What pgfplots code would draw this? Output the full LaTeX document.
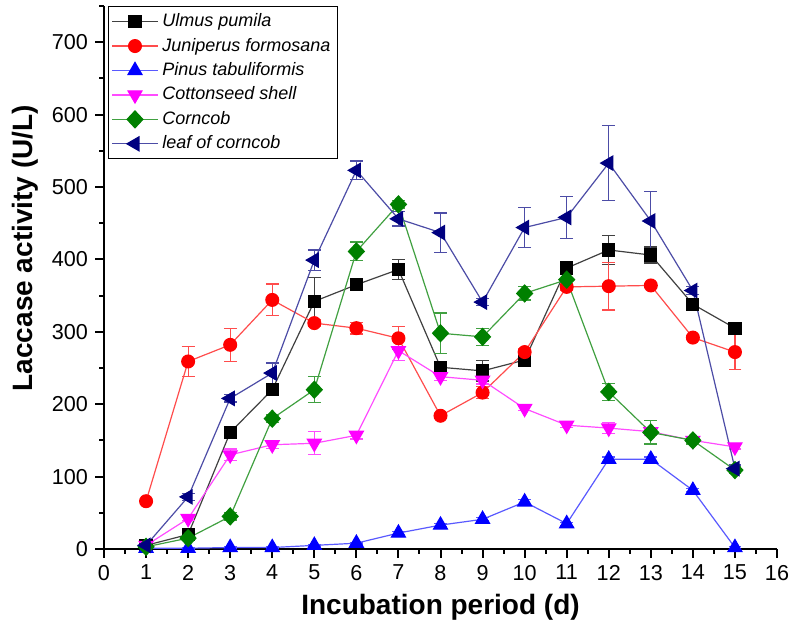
\documentclass[border=0pt]{standalone}
\usepackage{pgfplots}
\pgfplotsset{compat=1.18}
\usepackage{fontspec}
\setmainfont{Liberation Sans}

\definecolor{cUlm}{RGB}{0,0,0}
\definecolor{cJun}{RGB}{255,0,0}
\definecolor{cPin}{RGB}{0,0,255}
\definecolor{cCot}{RGB}{255,0,255}
\definecolor{cCor}{RGB}{0,128,0}
\definecolor{cLea}{RGB}{0,0,128}

\begin{document}
\begin{tikzpicture}
\begin{axis}[
  scale only axis,
  width=336.5pt, height=271.5pt,
  xmin=0, xmax=16, ymin=0, ymax=750,
  axis x line=bottom, axis y line=left,
  axis line style={-, line width=1pt},
  xtick={0,1,...,16},
  ytick={0,100,...,700},
  minor x tick num=1,
  minor ytick={50,150,...,750},
  tick align=outside,
  major tick length=4.5pt, minor tick length=2.5pt,
  tick style={line width=1pt, black},
  tick label style={font=\fontsize{10.8}{12}\selectfont},
  /pgf/number format/assume math mode=true,
  xlabel={Incubation period (d)},
  ylabel={Laccase activity (U/L)},
  label style={font=\fontsize{14}{16}\selectfont\bfseries},
  ylabel style={at={(ticklabel cs:0.554)}},
  clip=false,
  legend style={at={(0.006,1.0)}, anchor=north west, draw=black,
    line width=0.6pt, fill=white, font=\fontsize{9}{10}\selectfont\itshape,
    inner sep=1.5pt, row sep=0.2pt},
  legend cell align=left,
  legend image code/.code={
    \draw[mark repeat=2, mark phase=2] plot coordinates {(0cm,0cm) (0.4cm,0cm) (0.8cm,0cm)};},
  every axis plot/.append style={line width=0.6pt},
  error bars/y dir=both, error bars/y explicit,
  error bars/error bar style={line width=0.6pt},
  error bars/error mark options={rotate=90, mark size=3.2pt, line width=0.6pt},
]
% Ulmus pumila
\addplot[color=cUlm!75, mark=square*, mark size=3pt, mark options={solid, fill=cUlm, draw=cUlm}]
  coordinates {(1,5)+-(0,2) (2,20)+-(0,3) (3,161)+-(0,8) (4,220)+-(0,6) (5,342)+-(0,33)
  (6,365)+-(0,8) (7,386)+-(0,14) (8,251)+-(0,5) (9,246)+-(0,14) (10,261)+-(0,5)
  (11,388)+-(0,5) (12,413)+-(0,20) (13,406)+-(0,11) (14,338)+-(0,5) (15,305)+-(0,5)};
\addlegendentry{Ulmus pumila}
% Juniperus formosana
\addplot[color=cJun!70, mark=*, mark size=3.2pt, mark options={solid, fill=cJun, draw=cJun}]
  coordinates {(1,66)+-(0,3) (2,259)+-(0,21) (3,282)+-(0,23) (4,344)+-(0,22) (5,312)+-(0,5)
  (6,305)+-(0,8) (7,291)+-(0,16) (8,184)+-(0,3) (9,216)+-(0,8) (10,272)+-(0,5)
  (11,362)+-(0,5) (12,363)+-(0,33) (13,364)+-(0,3) (14,292)+-(0,3) (15,272)+-(0,24)};
\addlegendentry{Juniperus formosana}
% Pinus tabuliformis
\addplot[color=cPin!65, mark=triangle*, mark size=4pt, mark options={solid, fill=cPin, draw=cPin}]
  coordinates {(1,1)+-(0,1) (2,1)+-(0,1) (3,2)+-(0,1) (4,2)+-(0,1) (5,5)+-(0,1)
  (6,8)+-(0,1) (7,22)+-(0,2) (8,33)+-(0,2) (9,41)+-(0,2) (10,65)+-(0,3)
  (11,35)+-(0,2) (12,124)+-(0,3) (13,124)+-(0,3) (14,81)+-(0,2) (15,2)+-(0,1)};
\addlegendentry{Pinus tabuliformis}
% Cottonseed shell
\addplot[color=cCot!70, mark=triangle*, mark size=4pt, mark options={solid, rotate=180, fill=cCot, draw=cCot}]
  coordinates {(1,5)+-(0,2) (2,42)+-(0,3) (3,130)+-(0,8) (4,144)+-(0,5) (5,146)+-(0,16)
  (6,157)+-(0,5) (7,274)+-(0,14) (8,238)+-(0,5) (9,233)+-(0,5) (10,194)+-(0,3)
  (11,171)+-(0,3) (12,167)+-(0,8) (13,162)+-(0,5) (14,150)+-(0,3) (15,141)+-(0,3)};
\addlegendentry{Cottonseed shell}
% Corncob
\addplot[color=cCor!75, mark=diamond*, mark size=4.2pt, mark options={solid, xscale=1.25, fill=cCor, draw=cCor}]
  coordinates {(1,3)+-(0,1) (2,15)+-(0,3) (3,45)+-(0,5) (4,180)+-(0,5) (5,220)+-(0,18)
  (6,411)+-(0,13) (7,476)+-(0,5) (8,298)+-(0,28) (9,293)+-(0,12) (10,353)+-(0,9)
  (11,372)+-(0,8) (12,217)+-(0,12) (13,161)+-(0,16) (14,150)+-(0,5) (15,109)+-(0,5)};
\addlegendentry{Corncob}
% leaf of corncob
\addplot[color=cLea!70, mark=triangle*, mark size=4pt, mark options={solid, rotate=90, fill=cLea, draw=cLea}]
  coordinates {(1,5)+-(0,2) (2,72)+-(0,5) (3,208)+-(0,5) (4,243)+-(0,14) (5,399)+-(0,14)
  (6,523)+-(0,13) (7,456)+-(0,10) (8,437)+-(0,27) (9,341)+-(0,5) (10,444)+-(0,28)
  (11,458)+-(0,29) (12,533)+-(0,52) (13,453)+-(0,41) (14,357)+-(0,5) (15,111)+-(0,5)};
\addlegendentry{leaf of corncob}
\coordinate (sw) at (rel axis cs:0,0);
\coordinate (ne) at (rel axis cs:1,1);
\end{axis}
\pgfresetboundingbox
\path[use as bounding box] (sw) ++(-52pt,-40pt) rectangle ([shift={(7pt,3pt)}]ne);
\end{tikzpicture}
\end{document}
